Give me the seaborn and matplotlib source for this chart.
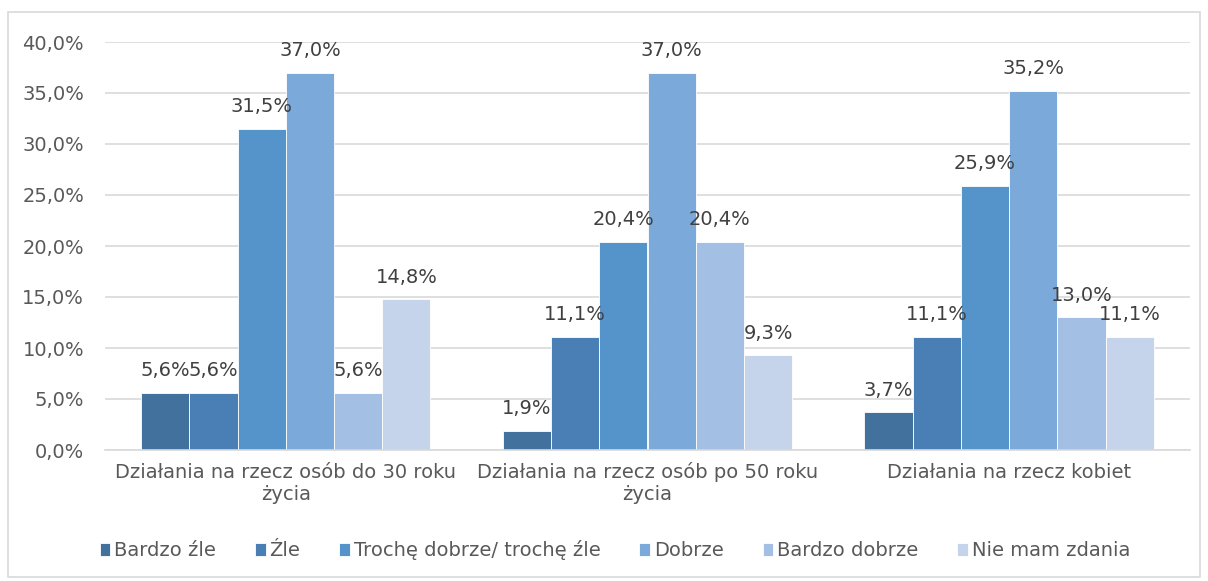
import matplotlib
matplotlib.use("Agg")
import matplotlib.pyplot as plt
from matplotlib.patches import Rectangle
import seaborn as sns
import pandas as pd

# data
categories = ["Działania na rzecz osób do 30 roku\nżycia",
              "Działania na rzecz osób po 50 roku\nżycia",
              "Działania na rzecz kobiet"]
series = ["Bardzo źle", "Źle", "Trochę dobrze/ trochę źle", "Dobrze",
          "Bardzo dobrze", "Nie mam zdania"]
bardzo_zle = [5.6, 1.9, 3.7]
zle = [5.6, 11.1, 11.1]
troche = [31.5, 20.4, 25.9]
dobrze = [37.0, 37.0, 35.2]
bardzo_dobrze = [5.6, 20.4, 13.0]
nie_mam = [14.8, 9.3, 11.1]
yticks = [0, 5, 10, 15, 20, 25, 30, 35, 40]

colors = ["#41719C", "#4A7FB5", "#5593CB", "#7BA9DA", "#A3C0E4", "#C5D4EA"]

values = [bardzo_zle, zle, troche, dobrze, bardzo_dobrze, nie_mam]
rows = []
for s, vals in zip(series, values):
    for c, v in zip(categories, vals):
        rows.append({"cat": c, "series": s, "value": v})
df = pd.DataFrame(rows)

sns.set_style("white")
plt.rcParams['font.family'] = ['DejaVu Sans']
text_color = "#595959"
fs = 14

fig = plt.figure(figsize=(12.08, 5.81), dpi=100)
ax = fig.add_axes([105/1208, 1 - 450/581, 1085/1208, 408/581])

sns.barplot(data=df, x="cat", y="value", hue="series", hue_order=series,
            order=categories, palette=colors, width=0.8, saturation=1,
            edgecolor="white", linewidth=0.6, ax=ax)

for cont in ax.containers:
    ax.bar_label(cont, labels=[f"{v:.1f}%".replace(".", ",") for v in cont.datavalues],
                 padding=9, fontsize=fs, color="#404040")

ax.set_ylim(0, 40)
ax.set_yticks(yticks)
ax.set_yticklabels([f"{t:.1f}%".replace(".", ",") for t in yticks])
ax.set_xlim(-0.5, 2.5)
ax.yaxis.grid(True, color="#D9D9D9", linewidth=1.2)
ax.set_axisbelow(True)
for sp in ["top", "right", "left"]:
    ax.spines[sp].set_visible(False)
ax.spines["bottom"].set_color("#D9D9D9")
ax.spines["bottom"].set_linewidth(1.2)
ax.tick_params(axis="y", length=0, labelsize=fs, labelcolor=text_color, pad=15)
ax.tick_params(axis="x", length=0, labelsize=fs, labelcolor=text_color, pad=9)
ax.set_xlabel("")
ax.set_ylabel("")

ax.legend(loc="center", bbox_to_anchor=(0.47, -0.245), ncol=6, frameon=False,
          fontsize=fs, labelcolor=text_color, handlelength=0.55, handleheight=0.65,
          handletextpad=0.2, columnspacing=2.0)

# outer chart border
fig.patches.append(Rectangle((8/1208, 4/581), 1192/1208, 565/581, transform=fig.transFigure,
                             fill=False, edgecolor="#D9D9D9", linewidth=1.2))

fig.savefig("out.png", dpi=100)
